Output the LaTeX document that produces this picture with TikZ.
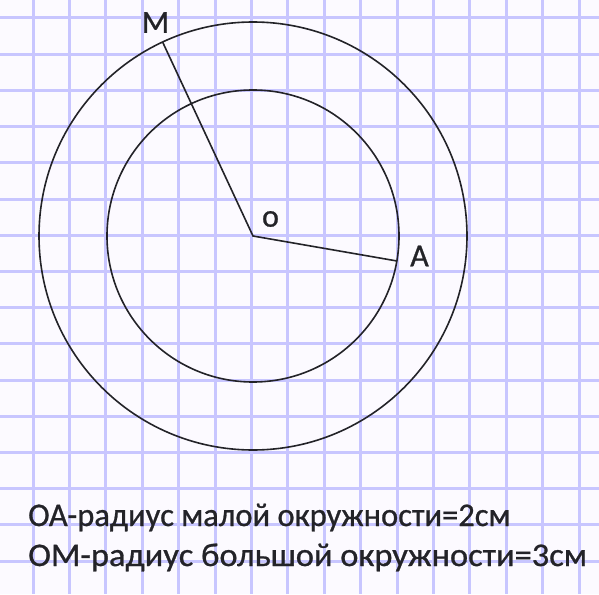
\documentclass[tikz,border=0pt]{standalone}
\usetikzlibrary{calc}
\usepackage{graphicx}
\usepackage{fontspec}
\setmainfont{Carlito}
\newfontfamily\heavyfont{Carlito}[FakeBold=0.8]
\definecolor{gridc}{RGB}{200,198,255}
\definecolor{paper}{RGB}{252,250,255}
\definecolor{ink}{RGB}{35,35,40}
\begin{document}
\begin{tikzpicture}[x=1pt,y=-1pt,
  gridline/.style={draw=gridc,line width=3pt},
  figline/.style={draw=ink,line width=1.6pt},
  lbl/.style={font=\heavyfont\fontsize{32}{36}\selectfont,text=ink,inner sep=0pt},
  txt/.style={font=\heavyfont\fontsize{33}{38}\selectfont,text=ink,inner sep=0pt,anchor=base west}]
\fill[paper] (0,0) rectangle (599,594);
\useasboundingbox (0,0) rectangle (599,594);
\foreach \i in {0,...,15} {\draw[gridline] (33+36.4*\i,0) -- (33+36.4*\i,594);}
\foreach \j in {0,...,15} {\draw[gridline] (0,18+36.2*\j) -- (599,18+36.2*\j);}
\coordinate (O) at (253,236);
\draw[figline] (O) circle[radius=214];
\draw[figline] (O) circle[radius=146];
\coordinate (M) at ($(O)+(-90.4,-194)$);
\coordinate (A) at ($(O)+(144,25)$);
\draw[figline] (M) -- (O) -- (A);
\node[lbl] (lm) at (155.5,22.5) {M};
\node[lbl] (lo) at (270.5,219) {o};
\node[lbl] (la) at (419.5,256) {A};
\node[txt] (t1) at (28,526) {\scalebox{0.985}[1]{ОА-радиус малой окружности=2см}};
\node[txt] (t2) at (28,566) {\scalebox{1.043}[1]{ОМ-радиус большой окружности=3см}};
\end{tikzpicture}
\end{document}
